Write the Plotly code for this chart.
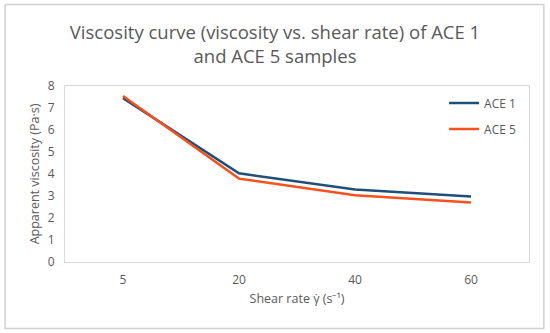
import plotly.graph_objects as go

shear_rates = ["5", "20", "40", "60"]
ace1 = [7.45, 4.03, 3.30, 2.98]
ace5 = [7.55, 3.79, 3.03, 2.70]
y_ticks = [0, 1, 2, 3, 4, 5, 6, 7, 8]

fig = go.Figure()
fig.add_trace(go.Scatter(x=shear_rates, y=ace1, mode="lines", name="ACE 1", legendgroup="a",
                         line=dict(color="#1F4E79", width=2.5)))
fig.add_trace(go.Scatter(x=shear_rates, y=ace5, mode="lines", name="ACE 5", legendgroup="b",
                         line=dict(color="#F4511E", width=2.5)))

font_family = "Open Sans, Liberation Sans, sans-serif"
gray = "#595959"

fig.update_layout(
    width=550, height=333,
    margin=dict(l=65, r=21, t=86, b=71),
    paper_bgcolor="white", plot_bgcolor="white",
    font=dict(family=font_family, color=gray, size=12),
    title=dict(text="Viscosity curve (viscosity vs. shear rate) of ACE 1<br>and ACE 5 samples",
               x=0.5, xanchor="center", y=0.883, yanchor="middle",
               font=dict(size=18.5, color=gray, family=font_family)),
    showlegend=True,
    legend=dict(x=0.817, y=0.986, xanchor="left", yanchor="top",
                bgcolor="rgba(0,0,0,0)", font=dict(size=12, color=gray),
                tracegroupgap=7, itemwidth=30),
    shapes=[dict(type="rect", xref="paper", yref="paper",
                 x0=-0.129, x1=1.032, y0=-0.378, y1=1.463,
                 line=dict(color="#D0D0D0", width=1.5))],
)
fig.update_xaxes(type="category", range=[-0.5, 3.5], showgrid=False, showline=True,
                 linecolor="#D9D9D9", mirror=True, ticks="", ticklabelstandoff=7,
                 tickfont=dict(size=12, color=gray),
                 title=dict(text="Shear rate γ̇ (s⁻¹)", font=dict(size=12.5, color=gray), standoff=6))
fig.update_yaxes(range=[0, 8], tickvals=y_ticks, showgrid=False, showline=True,
                 linecolor="#D9D9D9", mirror=True, ticks="outside", ticklen=7,
                 tickcolor="rgba(0,0,0,0)", zeroline=False,
                 tickfont=dict(size=12, color=gray),
                 title=dict(text="Apparent viscosity (Pa·s)", font=dict(size=12.5, color=gray), standoff=5))

fig.write_html("out.html", config={"displayModeBar": False},
               post_script="document.body.style.margin='0';")
